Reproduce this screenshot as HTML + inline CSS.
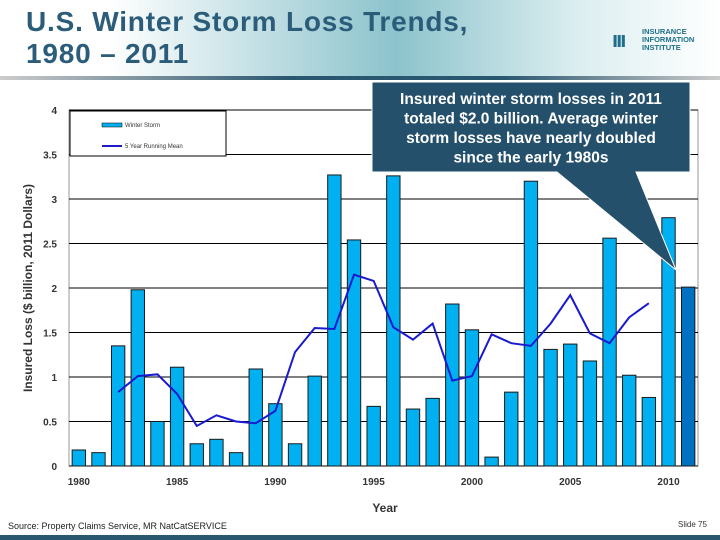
<!DOCTYPE html>
<html><head><meta charset="utf-8"><style>
body{margin:0;width:720px;height:540px;overflow:hidden;background:#fff;font-family:"Liberation Sans",sans-serif;position:relative}
#hdr{position:absolute;left:0;top:0;width:720px;height:78px;background:linear-gradient(90deg,#fff 0%,#fff 15%,#8cc3cc 55%,#dbeef0 80%,#fff 100%)}
#title{position:absolute;left:26px;top:6px;font-size:28px;letter-spacing:0.8px;font-weight:bold;color:#2b5d7a;line-height:32px}
#sep{position:absolute;left:0;top:76px;width:720px;height:4px;background:linear-gradient(90deg,#ccc,#2a5770 40%,#2a5770 70%,#ccc)}
#logo{position:absolute;left:612px;top:28px;font-size:7.5px;font-weight:bold;color:#1f6f8b;line-height:8px}
#foot{position:absolute;left:0;top:535px;width:720px;height:5px;background:#2a5770}
</style></head><body>
<div id="hdr"></div>
<div id="title">U.S. Winter Storm Loss Trends,<br>1980 – 2011</div>
<div id="logo"><span style="position:absolute;left:0;top:0;font-size:22px;line-height:24px;letter-spacing:-2px">ııı</span><span style="position:absolute;left:30px;top:0;white-space:nowrap">INSURANCE<br>INFORMATION<br>INSTITUTE</span></div>
<div id="sep"></div>
<svg id="chart" width="720" height="540" style="position:absolute;left:0;top:0"></svg>
<div id="foot"></div>
<script>
const years=[1980,1981,1982,1983,1984,1985,1986,1987,1988,1989,1990,1991,1992,1993,1994,1995,1996,1997,1998,1999,2000,2001,2002,2003,2004,2005,2006,2007,2008,2009,2010,2011];
const losses=[0.18,0.15,1.35,1.98,0.5,1.11,0.25,0.3,0.15,1.09,0.7,0.25,1.01,3.27,2.54,0.67,3.26,0.64,0.76,1.82,1.53,0.1,0.83,3.2,1.31,1.37,1.18,2.56,1.02,0.77,2.79,2.01];
const meanYears=[1982,1983,1984,1985,1986,1987,1988,1989,1990,1991,1992,1993,1994,1995,1996,1997,1998,1999,2000,2001,2002,2003,2004,2005,2006,2007,2008,2009];
const meanVals=[0.83,1.01,1.03,0.81,0.45,0.57,0.5,0.48,0.62,1.28,1.55,1.54,2.15,2.08,1.56,1.42,1.6,0.96,1.01,1.48,1.38,1.35,1.6,1.92,1.49,1.38,1.67,1.83];
const yTicks=[0,0.5,1,1.5,2,2.5,3,3.5,4];
const xTicks=[1980,1985,1990,1995,2000,2005,2010];
const NS='http://www.w3.org/2000/svg';
const svg=document.getElementById('chart');
const L=69,R=698,T=110,B=466;
const y=v=>B-v/4*(B-T);
const step=(R-L)/32;
const x=yr=>L+(yr-1980+0.5)*step;
function mk(t,a){const e=document.createElementNS(NS,t);for(const k in a)e.setAttribute(k,a[k]);svg.appendChild(e);return e;}
let e=mk('rect',{x:L,y:T,width:R-L,height:B-T,fill:'#fff',stroke:'#999'});

yTicks.forEach(v=>{
 e=mk('line',{x1:L,x2:R,y1:y(v),y2:y(v),stroke:'#000','stroke-width':1});
 
 e=mk('text',{x:L-12,y:y(v)+4,'text-anchor':'end','font-size':10,'font-weight':'bold',fill:'#333'});e.textContent=v;
 
});
xTicks.forEach(v=>{
 e=mk('text',{x:x(v),y:B+19,'text-anchor':'middle','font-size':10,'font-weight':'bold',fill:'#333'});e.textContent=v;
 
});
const bw=step*0.68;
losses.forEach((v,i)=>{
 e=mk('rect',{x:x(years[i])-bw/2,y:y(v),width:bw,height:B-y(v),fill:years[i]===2011?'#0070c0':'#00b0f0',stroke:'#1a1a1a','stroke-width':1});
 
});
e=mk('polyline',{points:meanVals.map((v,i)=>x(meanYears[i])+','+y(v)).join(' '),fill:'none',stroke:'#1a1ad0','stroke-width':2});

e=mk('text',{x:385,y:512,'text-anchor':'middle','font-size':12,'font-weight':'bold',fill:'#333'});e.textContent='Year';

e=mk('text',{x:0,y:0,transform:'translate(32,288) rotate(-90)','text-anchor':'middle','font-size':12,'font-weight':'bold',fill:'#333'});e.textContent='Insured Loss ($ billion, 2011 Dollars)';

e=mk('rect',{x:70,y:111,width:156,height:45,fill:'#fff',stroke:'#000'});

e=mk('rect',{x:102,y:123,width:20,height:4,fill:'#00b0f0',stroke:'#000','stroke-width':0.5});

e=mk('text',{x:125,y:127,'font-size':6,fill:'#333'});e.textContent='Winter Storm';

e=mk('line',{x1:102,x2:122,y1:146,y2:146,stroke:'#1a1ad0','stroke-width':2});

e=mk('text',{x:125,y:148,'font-size':6,fill:'#333'});e.textContent='5 Year Running Mean';

e=mk('polygon',{points:'372,82 690,82 690,172 636,172 676,270 557,172 372,172',fill:'#24506c',stroke:'#fff','stroke-width':1});

['Insured winter storm losses in 2011','totaled $2.0 billion.  Average winter','storm losses have nearly doubled','since the early 1980s'].forEach((s,i)=>{
 e=mk('text',{x:531,y:104+i*19.5,'text-anchor':'middle','font-size':15.5,'font-weight':'bold',fill:'#fff'});e.textContent=s;
 
});
e=mk('text',{x:8,y:529,'font-size':9,fill:'#222'});e.textContent='Source: Property Claims Service, MR NatCatSERVICE';

e=mk('text',{x:678,y:527,'font-size':8,fill:'#333'});e.textContent='Slide 75';

</script>
</body></html>
